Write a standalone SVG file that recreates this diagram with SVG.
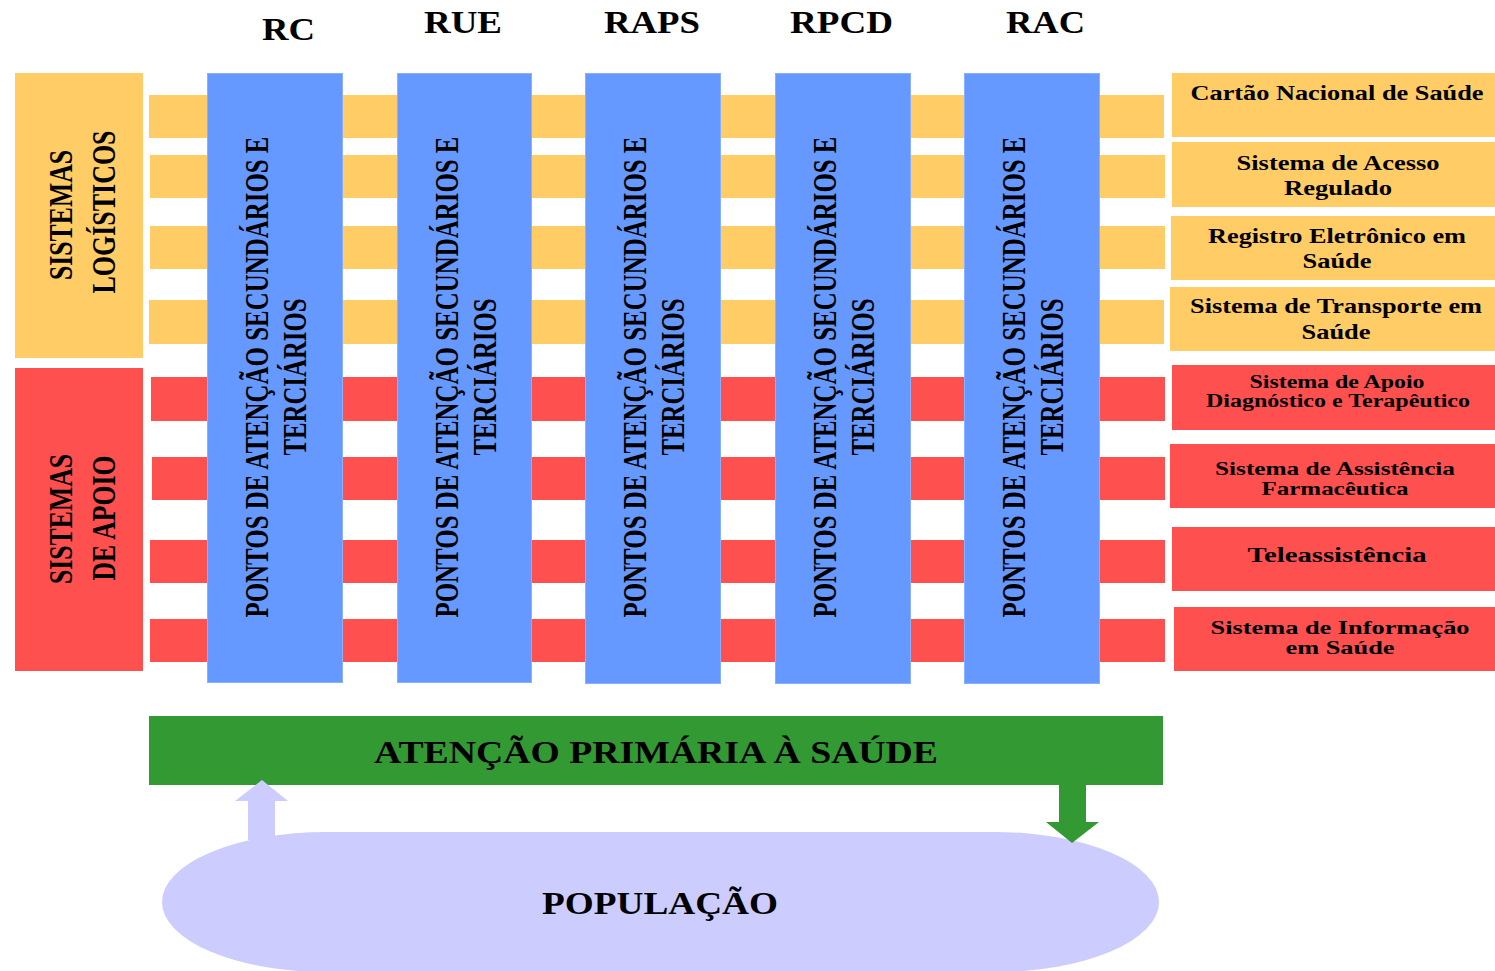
<svg xmlns="http://www.w3.org/2000/svg" width="1495" height="971" viewBox="0 0 1495 971">
  <style>
    .t { font-family: "Liberation Serif", "Times New Roman", serif; font-weight: bold; fill: #000; }
    .mid { text-anchor: middle; }
    .yel { fill: #FFCC66; }
    .red { fill: #FF5050; }
    .blue { fill: #6699FF; stroke: #88B0FF; stroke-width: 1; }
    .green { fill: #339933; }
    .lav { fill: #CCCCFF; }
  </style>

  <rect width="1495" height="971" fill="#fff"/>

  <!-- horizontal bands behind the network columns -->
  <g id="bands">
    <rect class="yel" x="149" y="95" width="1015" height="43"/>
    <rect class="yel" x="150" y="155" width="1015" height="43"/>
    <rect class="yel" x="150" y="226" width="1015" height="43"/>
    <rect class="yel" x="149" y="300" width="1015" height="44"/>
    <rect class="red" x="151" y="377" width="1014" height="44"/>
    <rect class="red" x="152" y="457" width="1013" height="43"/>
    <rect class="red" x="150" y="540" width="1015" height="43"/>
    <rect class="red" x="150" y="619" width="1015" height="43"/>
  </g>

  <!-- left category boxes -->
  <g id="sistemas-logisticos">
    <rect class="yel" x="15" y="73" width="128" height="285"/>
    <text class="t mid" font-size="33" textLength="130" lengthAdjust="spacingAndGlyphs" transform="translate(72,215) rotate(-90)">SISTEMAS</text>
    <text class="t mid" font-size="33" textLength="163" lengthAdjust="spacingAndGlyphs" transform="translate(115,212) rotate(-90)">LOGÍSTICOS</text>
  </g>
  <g id="sistemas-apoio">
    <rect class="red" x="15" y="368" width="128" height="303"/>
    <text class="t mid" font-size="33" textLength="130" lengthAdjust="spacingAndGlyphs" transform="translate(72,519) rotate(-90)">SISTEMAS</text>
    <text class="t mid" font-size="33" textLength="125" lengthAdjust="spacingAndGlyphs" transform="translate(115,518) rotate(-90)">DE APOIO</text>
  </g>

  <!-- network columns -->
  <g id="rc">
    <text class="t" x="262" y="40" font-size="31" textLength="53" lengthAdjust="spacingAndGlyphs">RC</text>
    <rect class="blue" x="207.5" y="73.5" width="135" height="609"/>
    <text class="t mid" font-size="33" textLength="481" lengthAdjust="spacingAndGlyphs" transform="translate(268,377) rotate(-90)">PONTOS DE ATENÇÃO SECUNDÁRIOS E</text>
    <text class="t mid" font-size="33" textLength="157" lengthAdjust="spacingAndGlyphs" transform="translate(306,377) rotate(-90)">TERCIÁRIOS</text>
  </g>
  <g id="rue">
    <text class="t" x="424" y="33" font-size="31" textLength="78" lengthAdjust="spacingAndGlyphs">RUE</text>
    <rect class="blue" x="397.5" y="73.5" width="134" height="609"/>
    <text class="t mid" font-size="33" textLength="481" lengthAdjust="spacingAndGlyphs" transform="translate(458,377) rotate(-90)">PONTOS DE ATENÇÃO SECUNDÁRIOS E</text>
    <text class="t mid" font-size="33" textLength="157" lengthAdjust="spacingAndGlyphs" transform="translate(496,377) rotate(-90)">TERCIÁRIOS</text>
  </g>
  <g id="raps">
    <text class="t" x="604" y="33" font-size="31" textLength="96" lengthAdjust="spacingAndGlyphs">RAPS</text>
    <rect class="blue" x="585.5" y="73.5" width="135" height="610"/>
    <text class="t mid" font-size="33" textLength="481" lengthAdjust="spacingAndGlyphs" transform="translate(646,377) rotate(-90)">PONTOS DE ATENÇÃO SECUNDÁRIOS E</text>
    <text class="t mid" font-size="33" textLength="157" lengthAdjust="spacingAndGlyphs" transform="translate(684,377) rotate(-90)">TERCIÁRIOS</text>
  </g>
  <g id="rpcd">
    <text class="t" x="790" y="33" font-size="31" textLength="103" lengthAdjust="spacingAndGlyphs">RPCD</text>
    <rect class="blue" x="775.5" y="73.5" width="135" height="610"/>
    <text class="t mid" font-size="33" textLength="481" lengthAdjust="spacingAndGlyphs" transform="translate(836,377) rotate(-90)">PONTOS DE ATENÇÃO SECUNDÁRIOS E</text>
    <text class="t mid" font-size="33" textLength="157" lengthAdjust="spacingAndGlyphs" transform="translate(874,377) rotate(-90)">TERCIÁRIOS</text>
  </g>
  <g id="rac">
    <text class="t" x="1006" y="33" font-size="31" textLength="79" lengthAdjust="spacingAndGlyphs">RAC</text>
    <rect class="blue" x="964.5" y="73.5" width="135" height="610"/>
    <text class="t mid" font-size="33" textLength="481" lengthAdjust="spacingAndGlyphs" transform="translate(1025,377) rotate(-90)">PONTOS DE ATENÇÃO SECUNDÁRIOS E</text>
    <text class="t mid" font-size="33" textLength="157" lengthAdjust="spacingAndGlyphs" transform="translate(1063,377) rotate(-90)">TERCIÁRIOS</text>
  </g>

  <!-- logistic systems (right) -->
  <g id="cartao">
    <rect class="yel" x="1172" y="73" width="323" height="64"/>
    <text class="t mid" x="1337" y="100" font-size="21" textLength="293" lengthAdjust="spacingAndGlyphs">Cartão Nacional de Saúde</text>
  </g>
  <g id="acesso">
    <rect class="yel" x="1172" y="142" width="323" height="65"/>
    <text class="t mid" x="1338" y="170" font-size="21" textLength="203" lengthAdjust="spacingAndGlyphs">Sistema de Acesso</text>
    <text class="t mid" x="1338" y="195" font-size="21" textLength="108" lengthAdjust="spacingAndGlyphs">Regulado</text>
  </g>
  <g id="registro">
    <rect class="yel" x="1171" y="216" width="324" height="64"/>
    <text class="t mid" x="1337" y="243" font-size="21" textLength="258" lengthAdjust="spacingAndGlyphs">Registro Eletrônico em</text>
    <text class="t mid" x="1337" y="268" font-size="21" textLength="69" lengthAdjust="spacingAndGlyphs">Saúde</text>
  </g>
  <g id="transporte">
    <rect class="yel" x="1170" y="287" width="325" height="64"/>
    <text class="t mid" x="1336" y="313" font-size="21" textLength="292" lengthAdjust="spacingAndGlyphs">Sistema de Transporte em</text>
    <text class="t mid" x="1336" y="339" font-size="21" textLength="69" lengthAdjust="spacingAndGlyphs">Saúde</text>
  </g>

  <!-- support systems (right) -->
  <g id="apoio-diagnostico">
    <rect class="red" x="1172" y="365" width="323" height="65"/>
    <text class="t mid" x="1337" y="388" font-size="18.5" textLength="175" lengthAdjust="spacingAndGlyphs">Sistema de Apoio</text>
    <text class="t mid" x="1338" y="407" font-size="18.5" textLength="264" lengthAdjust="spacingAndGlyphs">Diagnóstico e Terapêutico</text>
  </g>
  <g id="assistencia-farmaceutica">
    <rect class="red" x="1170" y="444" width="325" height="64"/>
    <text class="t mid" x="1335" y="475" font-size="19" textLength="240" lengthAdjust="spacingAndGlyphs">Sistema de Assistência</text>
    <text class="t mid" x="1335" y="495" font-size="19" textLength="147" lengthAdjust="spacingAndGlyphs">Farmacêutica</text>
  </g>
  <g id="teleassistencia">
    <rect class="red" x="1172" y="527" width="323" height="64"/>
    <text class="t mid" x="1337" y="562" font-size="22" textLength="179" lengthAdjust="spacingAndGlyphs">Teleassistência</text>
  </g>
  <g id="informacao">
    <rect class="red" x="1174" y="607" width="321" height="64"/>
    <text class="t mid" x="1340" y="634" font-size="19" textLength="259" lengthAdjust="spacingAndGlyphs">Sistema de Informação</text>
    <text class="t mid" x="1340" y="654" font-size="19" textLength="109" lengthAdjust="spacingAndGlyphs">em Saúde</text>
  </g>

  <!-- primary care bar -->
  <g id="aps">
    <rect class="green" x="149" y="716" width="1014" height="69"/>
    <text class="t" x="374" y="763" font-size="31" textLength="564" lengthAdjust="spacingAndGlyphs">ATENÇÃO PRIMÁRIA À SAÚDE</text>
  </g>

  <!-- population -->
  <g id="populacao">
    <rect class="lav" x="162" y="832" width="997" height="140" rx="165" ry="70"/>
    <text class="t" x="542" y="914" font-size="31" textLength="236" lengthAdjust="spacingAndGlyphs">POPULAÇÃO</text>
  </g>

  <!-- flow arrows between population and primary care -->
  <g id="connectors">
    <polygon class="lav" points="248,840 248,801 235,801 262,780 288,801 275,801 275,840"/>
    <polygon class="green" points="1059,785 1086,785 1086,822 1099,822 1072,843 1046,822 1059,822"/>
  </g>
</svg>
